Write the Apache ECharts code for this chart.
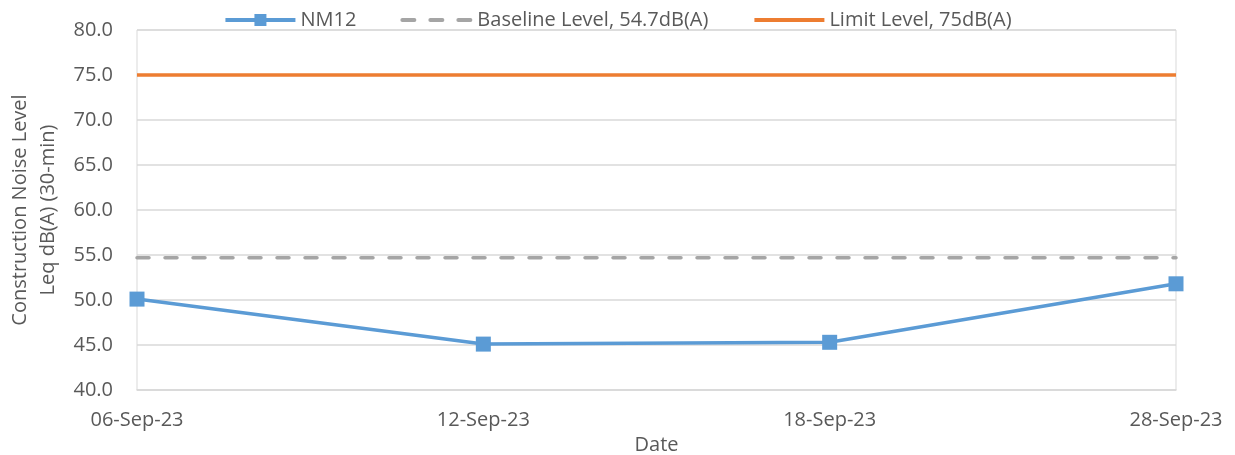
<!DOCTYPE html>
<html><head><meta charset="utf-8">
<script src="https://cdn.jsdelivr.net/npm/echarts@6/dist/echarts.min.js"></script>
<style>html,body{margin:0;padding:0;background:#fff}#c{width:1235px;height:455px}</style>
</head><body><div id="c"></div>
<script>
var categories = ['06-Sep-23', '12-Sep-23', '18-Sep-23', '28-Sep-23'];
var nm12 = [50.1, 45.1, 45.3, 51.8];
var baseline = [54.7, 54.7, 54.7, 54.7];
var limit = [75, 75, 75, 75];
var FONT = 'Open Sans';
var chart = echarts.init(document.getElementById('c'));
chart.setOption({
  animation: false,
  textStyle: {fontFamily: FONT},
  legend: {
    top: 5, left: 'center', itemWidth: 70, itemHeight: 15, itemGap: 44,
    textStyle: {fontFamily: FONT, fontSize: 20, color: '#595959'},
    lineStyle: {width: 4},
    data: [
      {name: 'NM12'},
      {name: 'Baseline Level, 54.7dB(A)', itemStyle: {opacity: 0}},
      {name: 'Limit Level, 75dB(A)', itemStyle: {opacity: 0}}
    ]
  },
  grid: {left: 137, right: 59, top: 30, bottom: 65, outerBoundsMode: 'none', show: true, borderColor: '#d9d9d9', borderWidth: 1},
  xAxis: {
    type: 'category', data: categories, boundaryGap: false,
    name: 'Date', nameLocation: 'middle', nameGap: 37,
    nameTextStyle: {fontFamily: FONT, fontSize: 20, color: '#595959'},
    axisLine: {lineStyle: {color: '#d9d9d9', width: 1.5}},
    axisTick: {show: false},
    axisLabel: {fontFamily: FONT, fontSize: 20, color: '#595959', margin: 20},
    splitLine: {show: false}
  },
  yAxis: {
    type: 'value', min: 40, max: 80, interval: 5,
    name: 'Construction Noise Level\nLeq dB(A) (30-min)', nameLocation: 'middle', nameRotate: 90, nameGap: 75,
    nameTextStyle: {fontFamily: FONT, fontSize: 20, color: '#595959', lineHeight: 28},
    axisLine: {show: false}, axisTick: {show: false},
    axisLabel: {fontFamily: FONT, fontSize: 20, color: '#595959', margin: 24, formatter: function(v){return v.toFixed(1);}},
    splitLine: {lineStyle: {color: '#d9d9d9', width: 1.5}}
  },
  series: [
    {name: 'NM12', type: 'line', data: nm12, symbol: 'rect', symbolSize: 15,
     lineStyle: {color: '#5B9BD5', width: 3.5}, itemStyle: {color: '#5B9BD5'}, z: 5},
    {name: 'Baseline Level, 54.7dB(A)', type: 'line', data: baseline, symbol: 'none',
     lineStyle: {color: '#A5A5A5', width: 3.5, type: [12, 16], cap: 'round'}, itemStyle: {color: '#A5A5A5'}},
    {name: 'Limit Level, 75dB(A)', type: 'line', data: limit, symbol: 'none',
     lineStyle: {color: '#ED7D31', width: 3.5}, itemStyle: {color: '#ED7D31'}}
  ]
});
</script></body></html>
